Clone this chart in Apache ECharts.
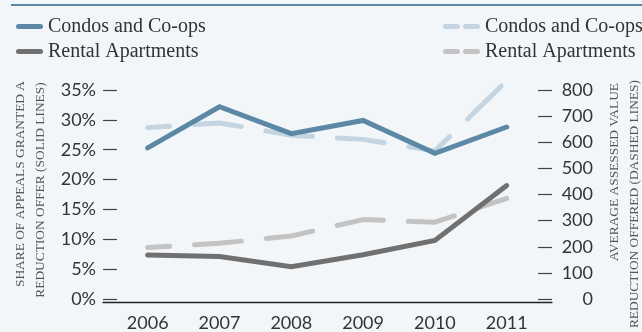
<!DOCTYPE html>
<html>
<head>
<meta charset="utf-8">
<script src="https://cdn.jsdelivr.net/npm/echarts@6/dist/echarts.min.js"></script>
<style>
html,body{margin:0;padding:0;background:#f3f6f9;}
#chart{width:642px;height:332px;}
</style>
</head>
<body>
<div id="chart"></div>
<script>
// Data
var years = ['2006', '2007', '2008', '2009', '2010', '2011'];
var condoShare = [25.3, 32.2, 27.7, 29.9, 24.4, 28.8];      // % (solid)
var rentalShare = [7.35, 7.1, 5.4, 7.4, 9.8, 19.0];         // % (solid)
var condoValue = [656, 674, 627, 611, 567, 835];            // avg assessed value reduction (dashed)
var rentalValue = [197, 213, 241, 304, 294, 385];           // (dashed)
var leftTicks = {min: 0, max: 35, interval: 5};
var rightTicks = {min: 0, max: 800, interval: 100};

var labels = {
  condoShare: 'Condos and Co-ops',
  rentalShare: 'Rental Apartments',
  condoValue: 'Condos and Co-ops',
  rentalValue: 'Rental Apartments'
};

var BLUE = '#5b88a5', LBLUE = '#c4d4e0', GRAY = '#707070', LGRAY = '#c3c3c3';
var tickFont = 'Lato';
var serif = 'Liberation Serif';

var chart = echarts.init(document.getElementById('chart'));

var solidIcon = 'path://M2.5,0H24.5A2.5,2.5,0,0,1,24.5,5H2.5A2.5,2.5,0,0,1,2.5,0Z';
var dashIcon = 'path://M2.5,0H14.5A2.5,2.5,0,0,1,14.5,5H2.5A2.5,2.5,0,0,1,2.5,0Z M22.5,0H34.5A2.5,2.5,0,0,1,34.5,5H22.5A2.5,2.5,0,0,1,22.5,0Z';

function legendCfg(left, items, icon) {
  return {
    left: left, top: 11.5, orient: 'vertical', align: 'left',
    itemGap: 5, itemWidth: icon === solidIcon ? 27 : 37, itemHeight: 5,
    icon: icon, selectedMode: false,
    data: items,
    formatter: function (n) { return labels[n]; },
    textStyle: {fontFamily: serif, fontSize: 20, color: '#333', lineHeight: 20, padding: 0}
  };
}

var option = {
  backgroundColor: '#f3f6f9',
  animation: false,
  legend: [
    legendCfg(11, ['condoShare', 'rentalShare'], solidIcon),
    legendCfg(438, ['condoValue', 'rentalValue'], dashIcon)
  ],
  grid: [
    {left: 111.8, right: 99.4, top: 90, bottom: 29.7},
    {left: 103, right: 90, top: 90, bottom: 29.7}
  ],
  xAxis: [
    {
      type: 'category', gridIndex: 0, data: years, boundaryGap: true,
      axisLine: {show: false}, axisTick: {show: false},
      axisLabel: {fontFamily: tickFont, fontSize: 18, color: '#333', margin: 15}
    },
    {
      type: 'category', gridIndex: 1, data: years,
      axisLine: {show: true, lineStyle: {color: '#222', width: 1.3}},
      axisTick: {show: false}, axisLabel: {show: false}
    }
  ],
  yAxis: [
    {
      type: 'value', gridIndex: 0, position: 'left', offset: 8.8,
      min: leftTicks.min, max: leftTicks.max, interval: leftTicks.interval,
      axisLine: {show: false},
      axisTick: {show: true, inside: true, length: 14, lineStyle: {color: '#444', width: 1.2}},
      splitLine: {show: false},
      axisLabel: {formatter: '{value}%', fontFamily: tickFont, fontSize: 18, color: '#333', margin: 7}
    },
    {
      type: 'value', gridIndex: 0, position: 'right', offset: 9.4,
      min: rightTicks.min, max: rightTicks.max, interval: rightTicks.interval,
      axisLine: {show: false},
      axisTick: {show: true, inside: true, length: 14, lineStyle: {color: '#444', width: 1.2}},
      splitLine: {show: false},
      axisLabel: {fontFamily: tickFont, fontSize: 18, color: '#333', margin: 41, align: 'right'}
    },
    {type: 'value', gridIndex: 1, show: false}
  ],
  graphic: [
    {type: 'rect', shape: {x: 11, y: 4, width: 631, height: 2}, style: {fill: BLUE}, silent: true},
    {type: 'text', x: 20, y: 184, rotation: Math.PI / 2,
      style: {text: 'SHARE OF APPEALS GRANTED A', font: '13.4px "Liberation Serif"', fill: '#555', align: 'center', verticalAlign: 'middle'}},
    {type: 'text', x: 40, y: 190, rotation: Math.PI / 2,
      style: {text: 'REDUCTION OFFER (SOLID LINES)', font: '13.4px "Liberation Serif"', fill: '#555', align: 'center', verticalAlign: 'middle'}},
    {type: 'text', x: 614, y: 83, rotation: Math.PI / 2,
      style: {text: 'AVERAGE ASSESSED VALUE', font: '13.4px "Liberation Serif"', fill: '#555', align: 'right', verticalAlign: 'middle'}},
    {type: 'text', x: 634, y: 80, rotation: Math.PI / 2,
      style: {text: 'REDUCTION OFFERED (DASHED LINES)', font: '13.4px "Liberation Serif"', fill: '#555', align: 'right', verticalAlign: 'middle'}}
  ],
  series: [
    {name: 'condoValue', type: 'line', xAxisIndex: 0, yAxisIndex: 1, data: condoValue,
      symbol: 'none', clip: false, color: LBLUE, itemStyle: {color: LBLUE},
      lineStyle: {color: LBLUE, width: 5, type: [47, 25], dashOffset: 25, cap: 'round', join: 'round'}},
    {name: 'rentalValue', type: 'line', xAxisIndex: 0, yAxisIndex: 1, data: rentalValue,
      symbol: 'none', clip: false, color: LGRAY, itemStyle: {color: LGRAY},
      lineStyle: {color: LGRAY, width: 5, type: [47, 25], dashOffset: 25, cap: 'round', join: 'round'}},
    {name: 'condoShare', type: 'line', xAxisIndex: 0, yAxisIndex: 0, data: condoShare,
      symbol: 'none', clip: false, color: BLUE, itemStyle: {color: BLUE},
      lineStyle: {color: BLUE, width: 5, cap: 'round', join: 'miter'}},
    {name: 'rentalShare', type: 'line', xAxisIndex: 0, yAxisIndex: 0, data: rentalShare,
      symbol: 'none', clip: false, color: GRAY, itemStyle: {color: GRAY},
      lineStyle: {color: GRAY, width: 5, cap: 'round', join: 'miter'}}
  ]
};
chart.setOption(option);
</script>
</body>
</html>
